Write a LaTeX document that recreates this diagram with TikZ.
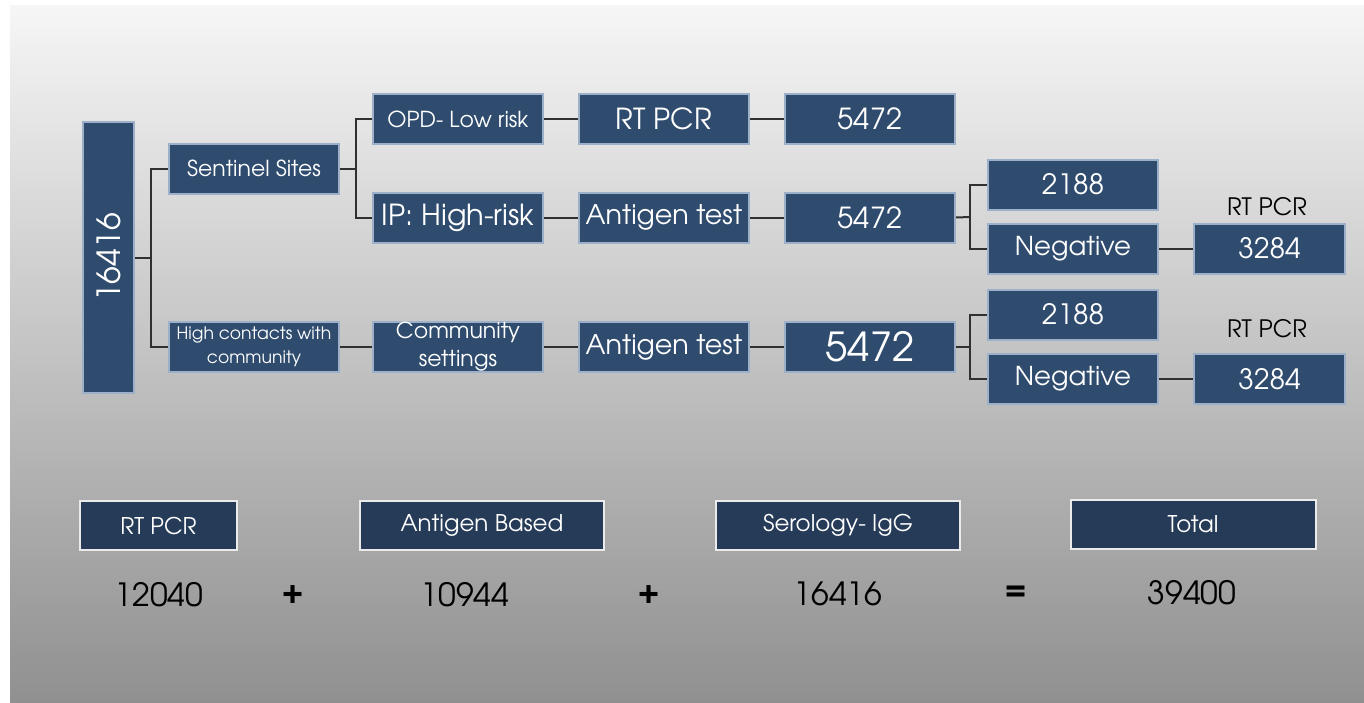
\documentclass[tikz,border=0pt]{standalone}
\usepackage{fontspec}
\setmainfont{texgyreadventor}[Extension=.otf, UprightFont=*-regular, BoldFont=*-bold]
\usetikzlibrary{positioning}
\definecolor{SlateBlue}{HTML}{2F4C6F}
\definecolor{DeepSlate}{HTML}{263B58}
\definecolor{EdgeBlue}{HTML}{9DB0C9}
\definecolor{LinkGray}{HTML}{303030}
\definecolor{SlideTop}{HTML}{F6F6F6}
\definecolor{SlideMid}{HTML}{E0E0E0}
\definecolor{SlideBot}{HTML}{909090}
\newcommand{\fs}[1]{\fontsize{#1}{#1}\selectfont}

\tikzset{
  box/.style={draw=EdgeBlue, line width=1pt, fill=SlateBlue, text=white,
              minimum width=85pt, minimum height=25pt, inner sep=0pt, align=center},
  sumbox/.style={draw=white!92!black, line width=1pt, fill=DeepSlate, text=white,
                 minimum height=24.5pt, inner sep=0pt, font=\fs{11.5}},
  link/.style={draw=LinkGray, line width=1pt},
}

\begin{document}
\begin{tikzpicture}[x=0.5pt, y=-0.5pt]
  % Slide background
  \fill[white] (0,0) rectangle (1364,702);
  \shade[top color=SlideTop, middle color=SlideMid, bottom color=SlideBot]
    (10,5) rectangle (1364,702);

  % Root
  \node[box, rotate=90, minimum width=135.5pt, minimum height=25.5pt,
        font=\fs{16}] (total) at (108.5,257.5) {16416};

  % Sites
  \node[box, font=\fs{11}] (sent) at (254,168.5) {Sentinel Sites};
  \node[box, font={\fontsize{8.6}{12}\selectfont}] (high) at (254,347)
    {High contacts with\\community};

  % Rows of tests
  \node[box, font=\fs{11}] (opd) at (458,119) {OPD- Low risk};
  \node[box, font=\fs{14.5}, right=17pt of opd] (pcr1) {RT PCR};
  \node[box, font=\fs{14.5}, right=17pt of pcr1] (n1) {5472};

  \node[box, font=\fs{14.5}] (ip) at (458,217.5) {IP: High-risk};
  \node[box, font=\fs{13.5}, right=17pt of ip] (ag2) {Antigen test};
  \node[box, font=\fs{14.5}, right=17pt of ag2] (n2) {5472};

  \node[box, font={\fontsize{11}{14}\selectfont}] (comm) at (458,347)
    {Community\\settings};
  \node[box, font=\fs{13.5}, right=17pt of comm] (ag3) {Antigen test};
  \node[box, font=\fs{20}, right=17pt of ag3] (n3) {5472};

  % Results
  \node[box, font=\fs{14}] (pos2) at (1073,184.5) {2188};
  \node[box, font=\fs{13}] (neg2) at (1073,248.5) {Negative};
  \node[box, font=\fs{14}] (pos3) at (1073,314.5) {2188};
  \node[box, font=\fs{13}] (neg3) at (1073,379) {Negative};

  \node[box, minimum width=75.5pt, font=\fs{14}] (rt2) at (1269.5,248.5) {3284};
  \node[box, minimum width=75.5pt, font=\fs{14}] (rt3) at (1269.5,379) {3284};
  \node[font=\fs{12}] (lab2) at (1267,207) {RT PCR};
  \node[font=\fs{12}] (lab3) at (1267,329) {RT PCR};

  % Connectors
  \coordinate (j1) at (151,257.5);
  \coordinate (j2) at (356,168.5);
  \coordinate (j3) at (970,217);
  \coordinate (j4) at (970,347);
  \draw[link] (total.south) -- (j1);
  \draw[link] (sent.west) -| (j1) |- (high.west);
  \draw[link] (sent.east) -- (j2);
  \draw[link] (opd.west) -| (j2) |- (ip.west);
  \draw[link] (high.east) -- (comm.west);
  \draw[link] (opd.east) -- (pcr1.west);
  \draw[link] (pcr1.east) -- (n1.west);
  \draw[link] (ip.east) -- (ag2.west);
  \draw[link] (ag2.east) -- (n2.west);
  \draw[link] (comm.east) -- (ag3.west);
  \draw[link] (ag3.east) -- (n3.west);
  \draw[link] (n2.east) -- (j3);
  \draw[link] (pos2.west) -| (j3) |- (neg2.west);
  \draw[link] (n3.east) -- (j4);
  \draw[link] (pos3.west) -| (j4) |- (neg3.west);
  \draw[link] (neg2.east) -- (rt2.west);
  \draw[link] (neg3.east) -- (rt3.west);

  % Totals
  \node[sumbox, minimum width=78.5pt] (s1) at (158.5,525.5) {RT PCR};
  \node[sumbox, minimum width=122pt] (s2) at (482,525.5) {Antigen Based};
  \node[sumbox, minimum width=122pt] (s3) at (838,525) {Serology- IgG};
  \node[sumbox, minimum width=122.5pt] (s4) at (1193,524.5) {Total};

  \node[font=\fs{16}] (v1) at (159,595) {12040};
  \node[font=\fs{16}\bfseries] (p1) at (293,594) {+};
  \node[font=\fs{16}] (v2) at (465,595) {10944};
  \node[font=\fs{16}\bfseries] (p2) at (649,594) {+};
  \node[font=\fs{16}] (v3) at (838,594) {16416};
  \node[font=\fs{16}\bfseries] (eq) at (1016,593) {=};
  \node[font=\fs{16}] (v4) at (1192,593) {39400};
\end{tikzpicture}
\end{document}
